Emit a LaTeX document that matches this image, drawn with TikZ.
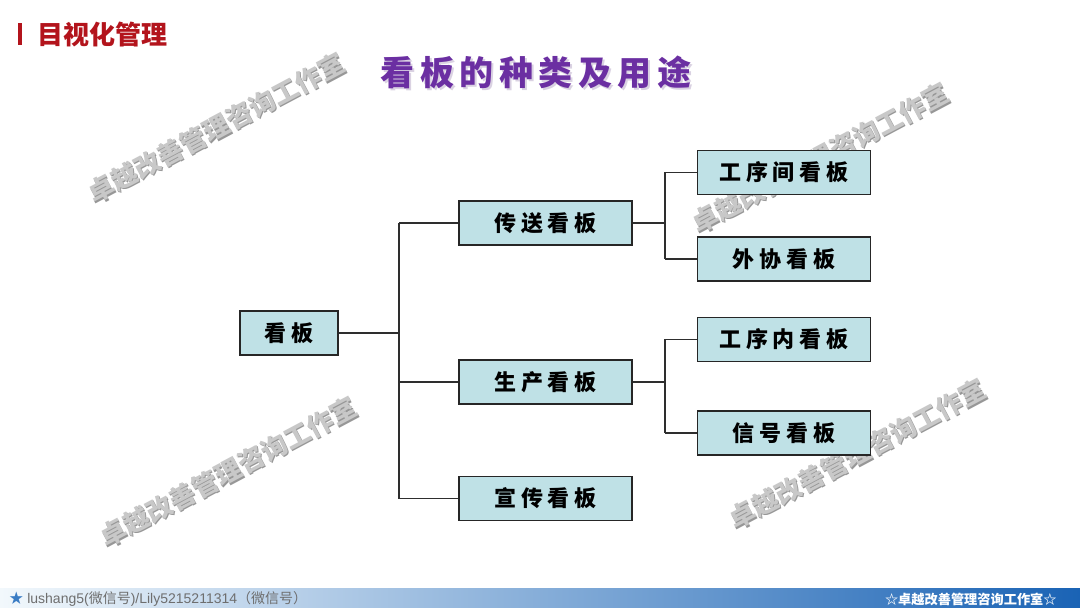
\documentclass[tikz,border=0pt]{standalone}
\usepackage{fontspec}
\setmainfont{Liberation Sans}
\newfontfamily\cjk{Noto Sans CJK SC}
\newfontfamily\cjkbox[LetterSpace=22]{Noto Sans CJK SC}
\newfontfamily\cjktitle[LetterSpace=16]{Noto Sans CJK SC}
\definecolor{boxfill}{HTML}{BFE1E6}
\definecolor{boxline}{HTML}{262626}
\definecolor{linecol}{HTML}{2E2E2E}
\definecolor{titlepurple}{HTML}{6B2FA2}
\definecolor{titleshadow}{HTML}{DAD2E2}
\definecolor{headred}{HTML}{B3141C}
\definecolor{wmtext}{HTML}{C8C8C8}
\definecolor{wmshadow}{HTML}{979797}
\definecolor{barleft}{HTML}{F2F8FC}
\definecolor{barmid}{HTML}{A9CFEC}
\definecolor{barright}{HTML}{1A63B5}
\definecolor{footgray}{HTML}{6E6E6E}
\definecolor{starblue}{HTML}{3A7CC4}
\begin{document}
\begin{tikzpicture}[x=0.5pt,y=-0.5pt,
  kb/.style={draw=boxline, line width=0.75pt, fill=boxfill, minimum height=22pt,
    inner sep=0pt, font=\cjkbox\bfseries\fontsize{11}{11}\selectfont},
  kbw/.style={kb, minimum width=86.5pt},
  wmsh/.style={rotate=28, font=\cjk\bfseries\fontsize{13}{13}\selectfont, text=wmshadow, inner sep=0pt},
  wm/.style={rotate=28, font=\cjk\bfseries\fontsize{13}{13}\selectfont, text=wmtext, inner sep=0pt},
  link/.style={draw=linecol, line width=0.65pt}]
\useasboundingbox (0,0) rectangle (1080,608);
\fill[white] (0,0) rectangle (1080,608);

% header
\fill[headred] (18,23) rectangle (22,45);
\node[anchor=west, inner sep=0pt, text=headred, font=\cjk\bfseries\fontsize{13}{13}\selectfont] (head) at (37,35) {目视化管理};

% title (with its soft shadow)
\node[inner sep=0pt, text=titleshadow, font=\cjktitle\bfseries\fontsize{17}{17}\selectfont] (titlesh) at (538,74.5) {看板的种类及用途};
\node[inner sep=0pt, text=titlepurple, font=\cjktitle\bfseries\fontsize{17}{17}\selectfont] (title) at (536,72) {看板的种类及用途};

% watermarks (behind the boxes), with shadow
\foreach \n/\x/\y in {a/216/128, b/820/158, c/228/472, d/857/454}{
  \node[wmsh] (wms\n) at (\x+1.2,\y+1.2) {卓越改善管理咨询工作室};
  \node[wm] (wm\n) at (\x,\y) {卓越改善管理咨询工作室};
}

% boxes
\node[kb, minimum width=49pt] (root) at (289,333) {看板};
\node[kbw] (n1) at (545.5,223) {传送看板};
\node[kbw] (n2) at (545.5,382) {生产看板};
\node[kbw] (n3) at (545.5,498.5) {宣传看板};
\node[kbw] (a1) at (784,172.5) {工序间看板};
\node[kbw] (a2) at (784,259) {外协看板};
\node[kbw] (b1) at (784,339.5) {工序内看板};
\node[kbw] (b2) at (784,433) {信号看板};

% connectors
\coordinate (j1) at (399,333);
\coordinate (j2) at (665,223);
\coordinate (j3) at (665,382);
\draw[link] (root.east) -- (j1);
\draw[link] (j1 |- n1) -- (j1 |- n3);
\draw[link] (j1 |- n1) -- (n1.west);
\draw[link] (j1 |- n2) -- (n2.west);
\draw[link] (j1 |- n3) -- (n3.west);
\draw[link] (n1.east) -- (j2);
\draw[link] (j2 |- a1) -- (j2 |- a2);
\draw[link] (j2 |- a1) -- (a1.west);
\draw[link] (j2 |- a2) -- (a2.west);
\draw[link] (n2.east) -- (j3);
\draw[link] (j3 |- b1) -- (j3 |- b2);
\draw[link] (j3 |- b1) -- (b1.west);
\draw[link] (j3 |- b2) -- (b2.west);

% footer bar
\shade[left color=barleft, middle color=barmid, right color=barright] (0,588) rectangle (1080,608);
\node[anchor=west, inner sep=0pt, text=footgray, font=\fontsize{7}{7}\selectfont] (footl) at (9,599)
  {{\cjk\color{starblue}★} lushang5({\cjk 微信号})/Lily5215211314{\cjk （微信号）}};
\node[anchor=east, inner sep=0pt, text=white, font=\cjk\bfseries\fontsize{6.6}{6.6}\selectfont] (footr) at (1057,599)
  {☆卓越改善管理咨询工作室☆};
\end{tikzpicture}
\end{document}
